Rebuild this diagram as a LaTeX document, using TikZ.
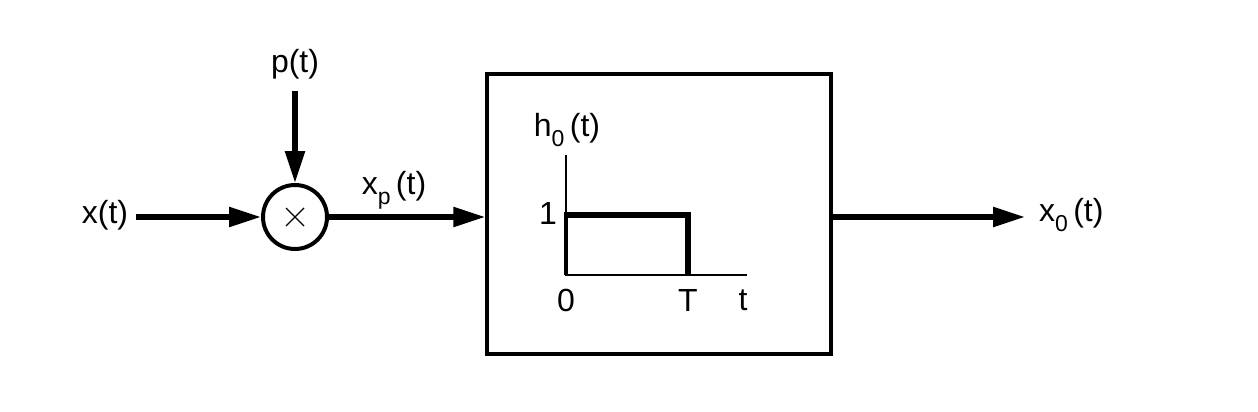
\documentclass[tikz,border=0pt]{standalone}
\usepackage{fontspec}
\setmainfont{Liberation Sans}
\usetikzlibrary{arrows.meta}
\newcommand{\sbs}[1]{\raisebox{-0.3em}{\fontsize{23}{25}\selectfont #1}}
\begin{document}
\begin{tikzpicture}[x=1pt,y=-1pt,
  lbl/.style={inner sep=0pt,font=\fontsize{32}{36}\selectfont},
  arr/.style={line width=5.5pt,-{Triangle[length=32pt,width=19pt]}},
  axis/.style={line width=1.8pt},
  pulse/.style={line width=5.5pt}]
\useasboundingbox (0,0) rectangle (1258,412);
\node[lbl] (x) at (105,215) {x(t)};
\node[lbl] (p) at (295,64) {p(t)};
\node[circle,draw,line width=4pt,minimum size=64pt,inner sep=0pt] (m) at (295,217) {};
\draw[line width=1.4pt] ([shift={(-9,-9)}]m.center) -- ([shift={(9,9)}]m.center)
  ([shift={(-9,9)}]m.center) -- ([shift={(9,-9)}]m.center);
\node[draw,line width=3.5pt,minimum width=344pt,minimum height=280pt,inner sep=0pt] (box) at (659,214) {};
\node[lbl] (xp) at (394,190) {x\sbs{p}\,(t)};
\node[lbl,anchor=west] (out) at (1039,215) {x\sbs{0}\,(t)};
\coordinate (xs) at ([xshift=8pt]x.east |- m);
\coordinate (bi) at (box.west |- m);
\coordinate (bo) at (box.east |- m);
\coordinate (oe) at ([xshift=-14pt]out.west |- m);
\draw[arr] (xs) -- (m.west);
\draw[arr] ([yshift=-12pt]p.south) -- (m.north);
\draw[arr] (m.east) -- (bi);
\draw[arr] (bo) -- (oe);
% inner plot
\coordinate (o) at (566,275);
\coordinate (ytop) at (566,155);
\coordinate (xend) at (747,275);
\coordinate (a1) at (566,215);
\coordinate (tT) at (688,215);
\coordinate (bT) at (688,275);
\draw[axis] (ytop) -- (o) -- (xend);
\draw[line width=3.2pt] (o) -- (a1);
\draw[pulse,line cap=butt] ([xshift=-1.6pt]a1) -- (tT) -- (bT);
\node[lbl] (h) at (567,130) {h\sbs{0}\,(t)};
\node[lbl,anchor=east] (one) at (557,213) {1};
\node[lbl] (zero) at (566,300) {0};
\node[lbl] (T) at (688,300) {T};
\node[lbl] (t) at (743,300) {t};
\end{tikzpicture}
\end{document}
